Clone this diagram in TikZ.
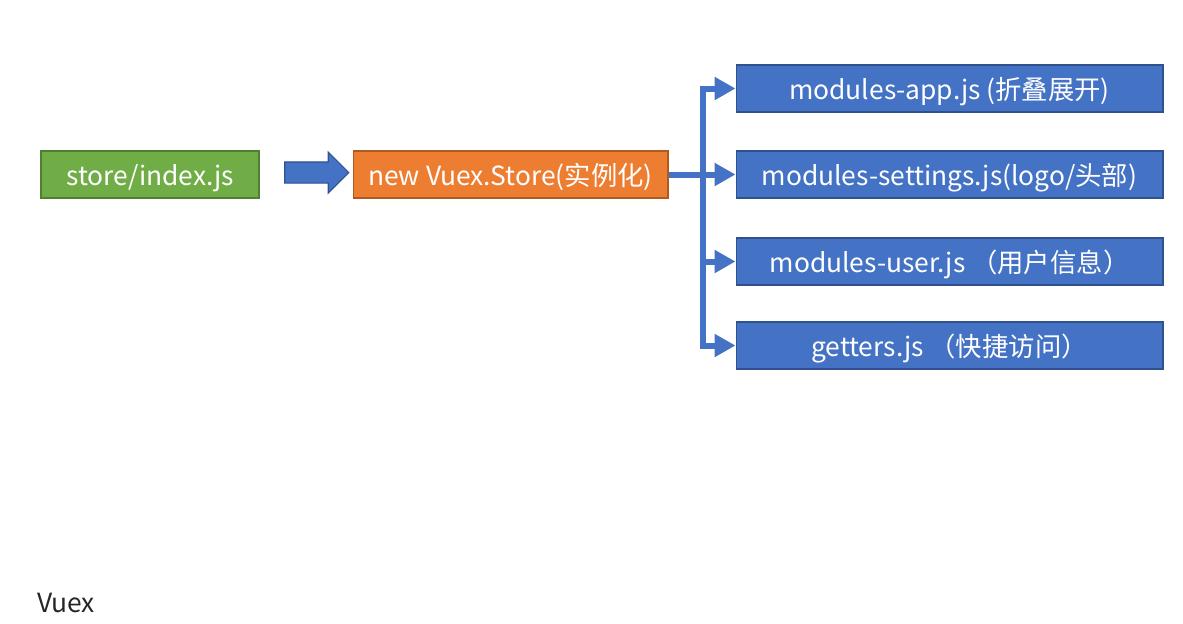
\documentclass[tikz,border=0pt]{standalone}
\usepackage{fontspec}
\setmainfont{Noto Sans CJK SC}
\usepackage{tikz}
\usetikzlibrary{arrows.meta}
\usetikzlibrary{shapes.arrows}
\definecolor{vgreen}{HTML}{70AD47}
\definecolor{vgreenline}{HTML}{507E32}
\definecolor{vorange}{HTML}{ED7D31}
\definecolor{vorangeline}{HTML}{AE5A21}
\definecolor{vblue}{HTML}{4472C4}
\definecolor{vblueline}{HTML}{2F528F}
\tikzset{
box/.style={draw, line width=0.6pt, text=white, minimum height=0.94cm, inner sep=0pt, text height=0.42cm, text depth=0cm, font=\fontsize{15}{18}\selectfont},
modbox/.style={box, fill=vblue, draw=vblueline, minimum width=8.54cm},
branch/.style={draw=vblue, line width=0.12cm, -{Triangle[length=0.42cm, width=0.44cm]}}}

\begin{document}
\begin{tikzpicture}[x=0.02cm, y=-0.02cm]
    \useasboundingbox (0,0) rectangle (1183,623);

                \node[box, fill=vgreen, draw=vgreenline, minimum width=4.36cm] (index) at (150,174.5) {store/index.js};
                \node[single arrow, fill=vblue, draw=vblueline, line width=0.6pt, minimum height=1.28cm, inner sep=0.2cm, single arrow head extend=0.2cm] (arr) at (311.5,172.5) {};
                \node[box, fill=vorange, draw=vorangeline, minimum width=6.3cm] (store) at (510.5,174.5) {new Vuex.Store(实例化)};

                \node[modbox] (app) at (949.5,88.5) {modules-app.js (折叠展开)};
                \node[modbox] (settings) at (949.5,174.5) {modules-settings.js(logo/头部)};
                \node[modbox] (user) at (949.5,261.5) {modules-user.js （用户信息）};
                \node[modbox] (getters) at (949.5,345.5) {getters.js （快捷访问）};

                \draw[branch] (store.east) -- ++(34,0) |- (app.west);
                \draw[branch] (store.east) -- (settings.west);
                \draw[branch] (store.east) -- ++(34,0) |- (user.west);
                \draw[branch] (store.east) -- ++(34,0) |- (getters.west);

                \node[anchor=west, text=black!85, font=\fontsize{15}{18}\selectfont] (title) at (31,603) {Vuex};

            \end{tikzpicture}
\end{document}
